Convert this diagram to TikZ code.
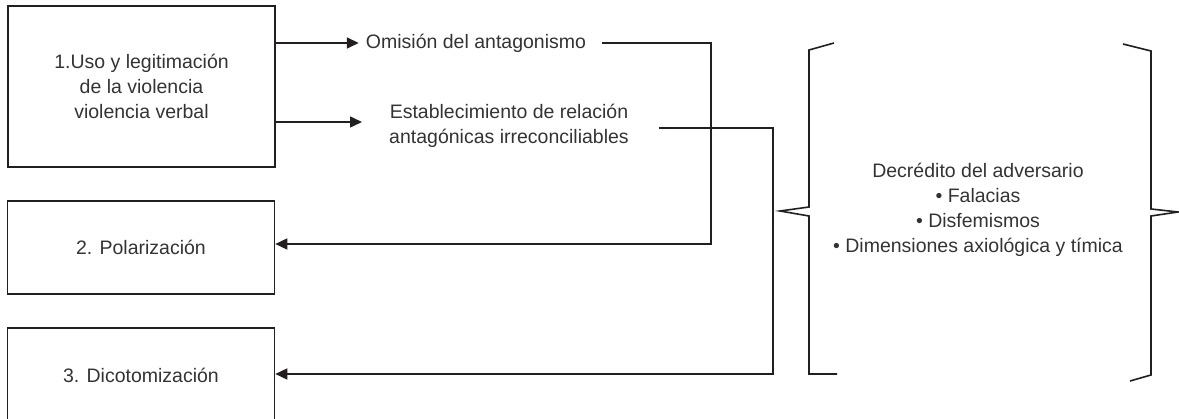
\documentclass[tikz,border=0pt]{standalone}
\usepackage{fontspec}
\setmainfont{Liberation Sans}
\usetikzlibrary{arrows.meta}

\definecolor{linea}{HTML}{231F20}
\definecolor{texto}{HTML}{333333}

\tikzset{
  caja/.style={draw=linea, line width=1.6pt, minimum width=267pt, inner sep=0pt},
  etiqueta/.style={text=texto, align=center, inner sep=0pt, font=\fontsize{19.5}{25}\selectfont},
  flecha/.style={draw=linea, line width=1.6pt, -{Triangle[length=12pt,width=11pt]}},
  linea/.style={draw=linea, line width=1.6pt}
}

\begin{document}
\begin{tikzpicture}[x=1pt,y=-1pt]


%definitions

\def\xa{711} % first drop line
\def\xb{773} % second drop line

\useasboundingbox (0,0) rectangle (1179,419);

%
%boxes
%

\node[caja, etiqueta, minimum height=161pt] (uso) at (141.5,86.5) {1.Uso y legitimación\\de la violencia\\violencia verbal};
\node[caja, etiqueta, minimum height=93pt] (polar) at (141,247.5) {2. Polarización};
\node[caja, etiqueta, minimum height=94pt] (dicot) at (141,375) {3. Dicotomización}; % bottom edge cut by the page

%labels

\node[etiqueta] (omision) at (476,43) {Omisión del antagonismo};
\node[etiqueta] (relacion) at (509,126) {Establecimiento de relación\\antagónicas irreconciliables};
\node[etiqueta] (descredito) at (978,210) {Decrédito del adversario\\• Falacias\\• Disfemismos\\• Dimensiones axiológica y tímica};

\coordinate (tipa) at (362,122); % tip of the second arrow

%arrows out of box 1

\draw[flecha, shorten >=7pt] (uso.east |- omision) -- (omision.west);
\draw[flecha] (uso.east |- tipa) -- (tipa);

%arrows back to boxes 2 and 3

\draw[flecha] ([xshift=16pt]omision.east) -- (\xa,43) -- (\xa,244) -- (polar.east |- 0,244);
\draw[flecha] (relacion.east) ++(30,2) -- (\xb,128) -- (\xb,374) -- (dicot.east |- 0,374);

%braces

\draw[linea] (834,43) -- (809,50) -- (809,207) -- (780,211) -- (809,216) -- (809,374) -- (837,374); % left brace
\draw[linea] (1123,44) -- (1151,51) -- (1151,209) -- (1178,212) -- (1151,216) -- (1151,375) -- (1130,381); % right brace


\end{tikzpicture}
\end{document}
